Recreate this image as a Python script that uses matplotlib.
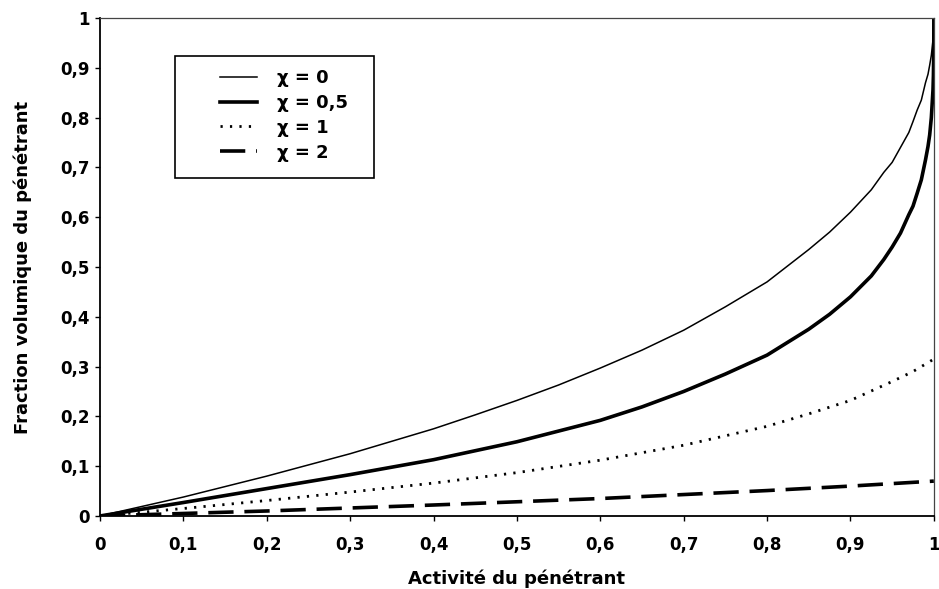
import matplotlib
matplotlib.use("Agg")
import matplotlib.pyplot as plt
from matplotlib.patches import Rectangle

# activity values (x) and volume fraction for each chi
act_0 = [0, 0.1, 0.2, 0.3, 0.4, 0.45, 0.5, 0.55, 0.6, 0.65, 0.7, 0.75, 0.8, 0.85, 0.875, 0.9,
         0.925, 0.94, 0.95, 0.96, 0.97, 0.975, 0.98, 0.985, 0.99, 0.993, 0.995, 0.997, 0.999, 1.0]
phi_0 = [0, 0.038, 0.08, 0.125, 0.175, 0.203, 0.232, 0.263, 0.297, 0.333, 0.373, 0.42, 0.47, 0.535, 0.57, 0.61,
         0.655, 0.69, 0.71, 0.74, 0.77, 0.792, 0.815, 0.835, 0.87, 0.887, 0.905, 0.925, 0.956, 1.0]

act_05 = [0, 0.1, 0.2, 0.3, 0.4, 0.5, 0.6, 0.65, 0.7, 0.75, 0.8, 0.85, 0.875, 0.9, 0.925, 0.94, 0.95,
          0.96, 0.97, 0.975, 0.98, 0.985, 0.99, 0.993, 0.995, 0.997, 0.999, 0.9995, 0.9999, 0.99999, 1.0]
phi_05 = [0, 0.027, 0.055, 0.083, 0.113, 0.149, 0.192, 0.219, 0.25, 0.285, 0.323, 0.375, 0.405, 0.44, 0.482, 0.515, 0.54,
          0.568, 0.605, 0.622, 0.648, 0.675, 0.715, 0.742, 0.765, 0.8, 0.856, 0.885, 0.933, 0.97, 1.0]

act_1 = [0, 0.1, 0.2, 0.3, 0.4, 0.5, 0.6, 0.7, 0.8, 0.85, 0.9, 0.95, 0.975, 1.0]
phi_1 = [0, 0.015, 0.031, 0.048, 0.066, 0.087, 0.112, 0.142, 0.18, 0.205, 0.232, 0.27, 0.29, 0.315]

act_2 = [0, 0.1, 0.2, 0.3, 0.4, 0.5, 0.6, 0.7, 0.8, 0.9, 1.0]
phi_2 = [0, 0.005, 0.01, 0.016, 0.022, 0.0285, 0.035, 0.043, 0.051, 0.06, 0.07]

labels = ["χ = 0", "χ = 0,5", "χ = 1", "χ = 2"]
tick_vals = [0, 0.1, 0.2, 0.3, 0.4, 0.5, 0.6, 0.7, 0.8, 0.9, 1.0]
tick_labels = ["0", "0,1", "0,2", "0,3", "0,4", "0,5", "0,6", "0,7", "0,8", "0,9", "1"]

plt.rcParams['font.family'] = ['DejaVu Sans']
plt.rcParams['font.weight'] = 'bold'

fig = plt.figure(figsize=(9.39, 5.89), dpi=100)
ax = fig.add_axes([0.1065, 0.124, 0.888, 0.8455])

ax.plot(act_0, phi_0, color='black', lw=1.1, label=labels[0])
ax.plot(act_05, phi_05, color='black', lw=2.6, label=labels[1])
ax.plot(act_1, phi_1, color='black', lw=2.0, linestyle=(0, (0.8, 2.6)), label=labels[2])
ax.plot(act_2, phi_2, color='black', lw=2.6, linestyle=(0, (7, 3)), label=labels[3])

ax.set_xlim(0, 1)
ax.set_ylim(0, 1)
ax.set_xticks(tick_vals)
ax.set_xticklabels(tick_labels, fontsize=12, fontweight='bold')
ax.set_yticks(tick_vals)
ax.set_yticklabels(tick_labels, fontsize=12, fontweight='bold')
ax.tick_params(direction='out', length=3.6, width=1)
ax.tick_params(axis='x', pad=11)
ax.tick_params(axis='y', pad=4)

for side in ['left', 'bottom']:
    ax.spines[side].set_linewidth(1.3)
for side in ['top', 'right']:
    ax.spines[side].set_linewidth(0.9)
    ax.spines[side].set_color('#444444')

ax.set_xlabel("Activité du pénétrant", fontsize=13, fontweight='bold', labelpad=11)
ax.set_ylabel("Fraction volumique du pénétrant", fontsize=13, fontweight='bold', labelpad=20)

# legend box drawn separately so the padding can match the original
ax.add_patch(Rectangle((0.0899, 0.6787), 0.2386, 0.245, transform=ax.transAxes,
                       facecolor='white', edgecolor='black', lw=1.2, zorder=4))
leg = ax.legend(loc='upper left', bbox_to_anchor=(0.1439, 0.8976), borderaxespad=0, borderpad=0,
                frameon=False, prop={'size': 13, 'weight': 'bold'},
                handlelength=2.05, handletextpad=1.1, labelspacing=0.38)
leg.set_zorder(5)

fig.savefig("out.png", dpi=100)
